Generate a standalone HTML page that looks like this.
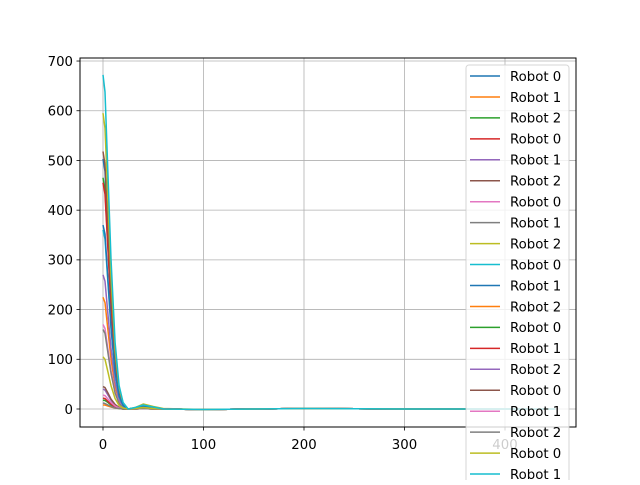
<!DOCTYPE html>
<html><head><meta charset="utf-8"><style>
body{margin:0;background:#fff;}
svg text{font-family:"DejaVu Sans","Liberation Sans",sans-serif;font-size:13.3px;fill:#000;}
</style></head><body>
<svg id="chart" width="640" height="480" viewBox="0 0 640 480" xmlns="http://www.w3.org/2000/svg">
<rect width="640" height="480" fill="#fff"/>
<g id="grid"></g><g id="series"></g>
<rect x="80" y="58" width="496" height="369" fill="none" stroke="#000" stroke-width="1"/>
<g id="ticks"></g><g id="legend"></g>
</svg>
<script>
const xs=[0,2,5,8,12,16,20,25,32,40,50,60,100,150,200,300,450];
const labels=["Robot 0","Robot 1","Robot 2","Robot 0","Robot 1","Robot 2","Robot 0","Robot 1","Robot 2","Robot 0","Robot 1","Robot 2","Robot 0","Robot 1","Robot 2","Robot 0","Robot 1","Robot 2","Robot 0","Robot 1"];
const s0=[503,478,352,226,101,35,10,0,2,6,3,0,-1,0,1,0,0];
const s1=[225,214,158,101,45,16,5,0,2,5,2,0,-1,0,1,0,0];
const s2=[465,442,326,209,93,33,9,0,2,6,3,0,-1,0,1,0,0];
const s3=[455,432,319,205,91,32,9,0,2,6,3,0,-1,0,1,0,0];
const s4=[270,257,189,122,54,19,5,0,2,5,2,0,-1,0,1,0,0];
const s5=[518,492,363,233,104,36,10,0,2,7,3,0,-1,0,1,0,0];
const s6=[170,162,119,77,34,12,3,0,1,4,2,0,-1,0,1,0,0];
const s7=[160,152,112,72,32,11,3,0,1,4,2,0,-1,0,1,0,0];
const s8=[595,565,417,268,119,42,12,0,3,10,5,1,-1,0,1,0,0];
const s9=[360,342,252,162,72,25,7,0,2,6,3,0,-1,0,1,0,0];
const s10=[370,352,259,167,74,26,7,0,2,6,3,0,-1,0,1,0,0];
const s11=[8,8,6,4,2,1,0,0,0,1,0,0,-1,0,1,0,0];
const s12=[18,17,13,8,4,1,0,0,0,1,0,0,-1,0,1,0,0];
const s13=[22,21,15,10,4,2,0,0,0,1,0,0,-1,0,1,0,0];
const s14=[40,38,28,18,8,3,1,0,1,2,1,0,-1,0,1,0,0];
const s15=[45,43,32,20,9,3,1,0,1,2,1,0,-1,0,1,0,0];
const s16=[28,27,20,13,6,2,1,0,0,1,0,0,-1,0,1,0,0];
const s17=[12,11,8,5,2,1,0,0,0,1,0,0,-1,0,1,0,0];
const s18=[105,100,74,47,21,7,2,0,1,3,1,0,-1,0,1,0,0];
const s19=[672,638,470,302,134,47,13,0,3,8,4,0,-1,0,1,0,0];
const series=[s0,s1,s2,s3,s4,s5,s6,s7,s8,s9,s10,s11,s12,s13,s14,s15,s16,s17,s18,s19];
const xTicks=[0,100,200,300,400];
const yTicks=[0,100,200,300,400,500,600,700];
const colors=["#1f77b4","#ff7f0e","#2ca02c","#d62728","#9467bd","#8c564b","#e377c2","#7f7f7f","#bcbd22","#17becf"];
const NS="http://www.w3.org/2000/svg";
const X=v=>103+v*1.005, Y=v=>409-v*0.4971;
function mk(t,a,p){const e=document.createElementNS(NS,t);for(const k in a)e.setAttribute(k,a[k]);p.appendChild(e);return e;}
const grid=document.getElementById('grid'),ticks=document.getElementById('ticks'),sg=document.getElementById('series'),lg=document.getElementById('legend');
xTicks.forEach(t=>{
 const g=mk('line',{x1:X(t),x2:X(t),y1:58,y2:427,stroke:'#b0b0b0','stroke-width':0.8},grid);
 
 
 mk('line',{x1:X(t),x2:X(t),y1:427,y2:430.5,stroke:'#000','stroke-width':0.8},ticks);
 const tx=mk('text',{x:X(t),y:449,'text-anchor':'middle'},ticks);tx.textContent=t;
 
 
});
yTicks.forEach(t=>{
 const g=mk('line',{x1:80,x2:576,y1:Y(t),y2:Y(t),stroke:'#b0b0b0','stroke-width':0.8},grid);
 
 
 mk('line',{x1:76.5,x2:80,y1:Y(t),y2:Y(t),stroke:'#000','stroke-width':0.8},ticks);
 const tx=mk('text',{x:73,y:Y(t)+4.8,'text-anchor':'end'},ticks);tx.textContent=t;
 
 
});
series.forEach((s,i)=>{
 const pts=s.map((v,j)=>X(xs[j]).toFixed(1)+','+Y(v).toFixed(1)).join(' ');
 const p=mk('polyline',{points:pts,fill:'none',stroke:colors[i%10],'stroke-width':1.5,'stroke-linejoin':'round'},sg);
 
 
});
const box=mk('rect',{x:466,y:65,width:103,height:440,rx:3,fill:'#fff','fill-opacity':0.8,stroke:'#cccccc','stroke-opacity':0.8},lg);


labels.forEach((l,i)=>{
 const y=76+i*20.95;
 const ln=mk('line',{x1:470,x2:500,y1:y,y2:y,stroke:colors[i%10],'stroke-width':1.5},lg);
 
 
 const tx=mk('text',{x:510,y:y+4.8},lg);tx.textContent=l;
 
 
});
</script>
</body></html>
